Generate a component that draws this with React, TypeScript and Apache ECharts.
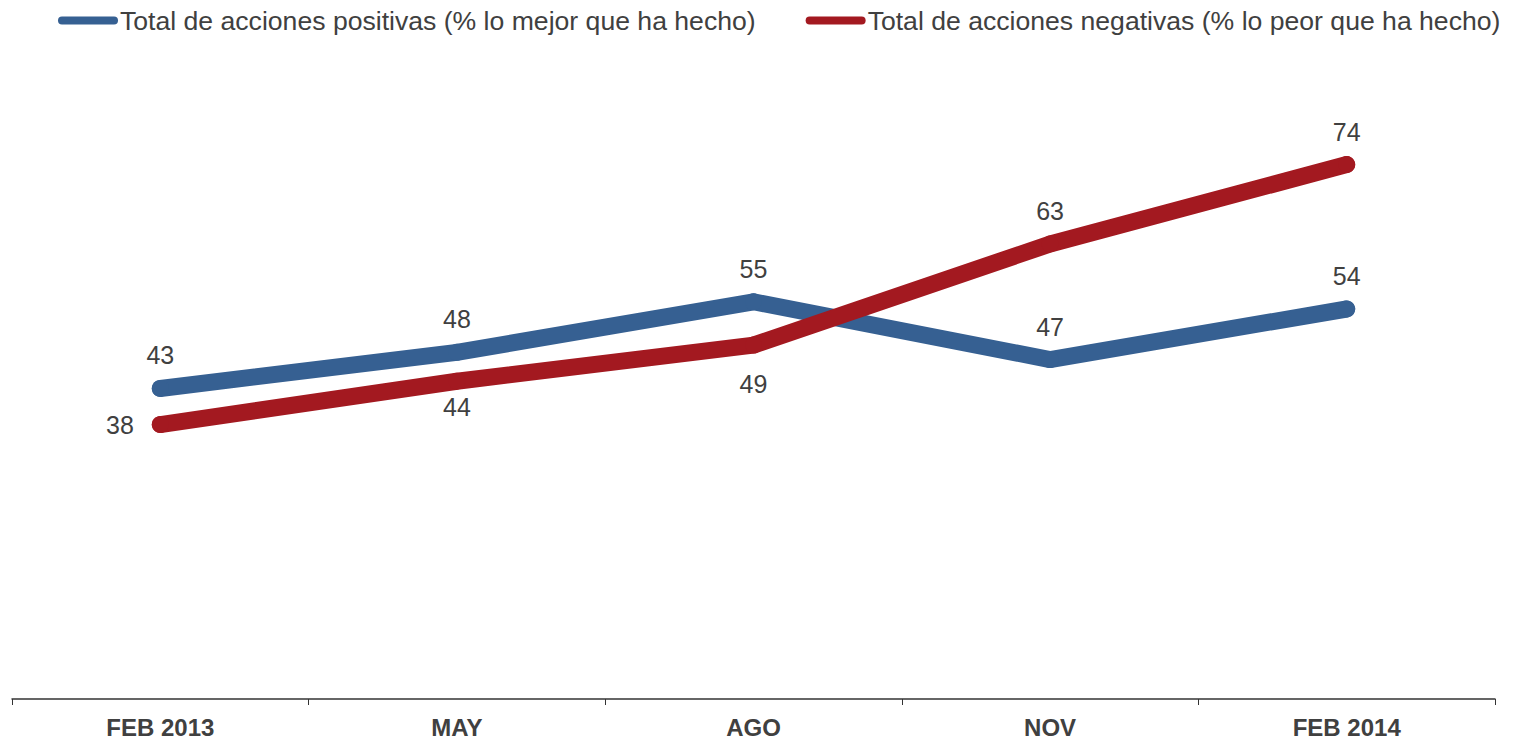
import React, { useEffect, useRef } from "react";
import * as echarts from "echarts";

const categories = ["FEB 2013", "MAY", "AGO", "NOV", "FEB 2014"];
const positiveName = "Total de acciones positivas (% lo mejor que ha hecho)";
const negativeName = "Total de acciones negativas (% lo peor que ha hecho)";
const positiveValues = [43, 48, 55, 47, 54];
const negativeValues = [38, 44, 49, 63, 74];
const negativeLabelPos = ["left", "bottom", "bottom", "top", "top"];
const negativeLabelDist = [18, 5, 18, 12, 12];

const BLUE = "#366092";
const RED = "#A31920";
const TEXT = "#404040";
const FONT = "'Liberation Sans', Arial, sans-serif";

export default function App() {
  const ref = useRef<HTMLDivElement>(null);
  useEffect(() => {
    document.body.style.margin = "0";
    const chart = echarts.init(ref.current!, null, { renderer: "svg" });
    const icon = "path://M4,0 H56 A4,4 0 0 1 56,8 H4 A4,4 0 0 1 4,0 Z";
    chart.setOption({
      animation: false,
      textStyle: { fontFamily: FONT },
      legend: {
        left: 53,
        top: 2,
        width: 1465,
        itemWidth: 60,
        itemHeight: 8,
        itemGap: 50,
        textStyle: { fontSize: 26.6, color: TEXT, fontFamily: FONT, padding: [0, 0, 0, -3] },
        data: [
          { name: positiveName, icon, itemStyle: { color: BLUE } },
          { name: negativeName, icon, itemStyle: { color: RED } },
        ],
      },
      grid: { left: 12, right: 23, top: 49, bottom: 42 },
      xAxis: {
        type: "category",
        data: categories,
        boundaryGap: true,
        axisLine: { lineStyle: { color: "#333", width: 1.5 } },
        axisTick: { show: true, length: 6, lineStyle: { color: "#333" } },
        axisLabel: { fontSize: 24, fontWeight: "bold", color: TEXT, margin: 16, fontFamily: FONT },
      },
      yAxis: {
        type: "value",
        min: 0,
        max: 90,
        show: false,
        splitLine: { show: false },
      },
      series: [
        {
          name: positiveName,
          type: "line",
          data: positiveValues,
          symbol: "circle",
          symbolSize: 17,
          itemStyle: { color: BLUE },
          lineStyle: { color: BLUE, width: 17, cap: "round", join: "round" },
          label: { show: true, position: "top", distance: 12, fontSize: 25, color: TEXT, fontFamily: FONT },
        },
        {
          name: negativeName,
          type: "line",
          data: negativeValues.map((v, i) => ({
            value: v,
            label: { position: negativeLabelPos[i], distance: negativeLabelDist[i] },
          })),
          symbol: "circle",
          symbolSize: 17,
          itemStyle: { color: RED },
          lineStyle: { color: RED, width: 17, cap: "round", join: "round" },
          label: { show: true, fontSize: 25, color: TEXT, fontFamily: FONT },
        },
      ],
    });
    return () => chart.dispose();
  }, []);
  return <div ref={ref} style={{ width: 1518, height: 741 }} />;
}
